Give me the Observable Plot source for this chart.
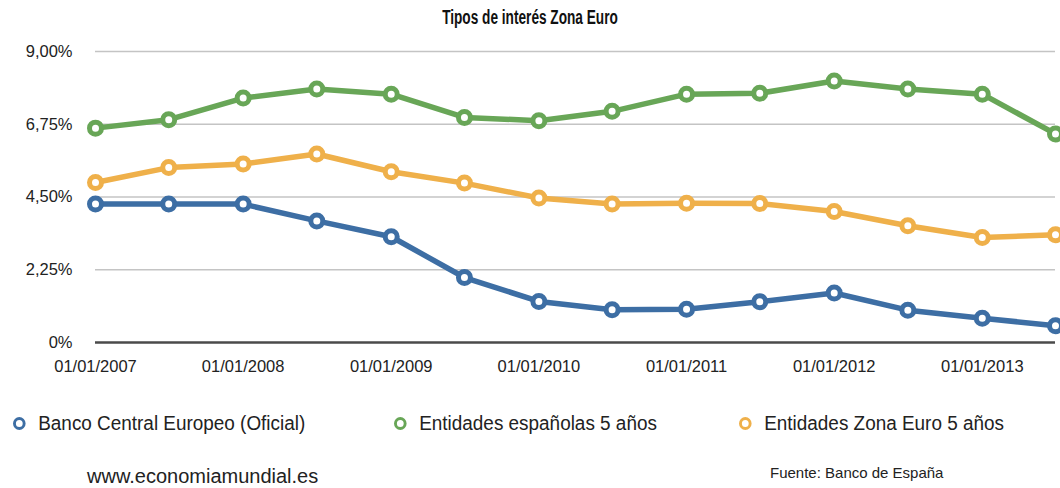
<!DOCTYPE html>
<html>
<head>
<meta charset="utf-8">
<script src="https://cdn.jsdelivr.net/npm/d3@7"></script>
<script src="https://cdn.jsdelivr.net/npm/@observablehq/plot@0.6"></script>
<style>
  body { margin: 0; background: #fff; font-family: "Liberation Sans", Arial, sans-serif; }
  #wrap { position: relative; width: 1060px; height: 488px; overflow: hidden; }
  #title { position: absolute; left: 0; top: 6px; width: 1060px; text-align: center; font-weight: bold; font-size: 19.5px; color: #111; transform: scaleX(0.70); transform-origin: 530px 0; }
  #chart { position: absolute; left: 0; top: 34px; }
  .leg { position: absolute; top: 412px; font-size: 19.5px; color: #222; display: flex; align-items: center; transform: scaleX(0.97); transform-origin: 0 0; }
  .leg span.m { display: inline-block; width: 7px; height: 7px; border-radius: 50%; border: 3px solid; margin-right: 13px; background: #fff; }
  #site { position: absolute; left: 87px; top: 465px; font-size: 20px; color: #222; }
  #src { position: absolute; left: 770px; top: 464px; font-size: 15px; color: #222; }
</style>
</head>
<body>
<div id="wrap">
  <div id="title">Tipos de interés Zona Euro</div>
  <div id="chart"></div>
  <div id="legend"></div>
  <div id="site">www.economiamundial.es</div>
  <div id="src">Fuente: Banco de España</div>
</div>
<script>
const dates = ["2007-01-01","2007-07-01","2008-01-01","2008-07-01","2009-01-01","2009-07-01","2010-01-01","2010-07-01","2011-01-01","2011-07-01","2012-01-01","2012-07-01","2013-01-01","2013-07-01"];
const seriesNames = ["Banco Central Europeo (Oficial)", "Entidades españolas 5 años", "Entidades Zona Euro 5 años"];
const bce       = [4.28, 4.28, 4.28, 3.76, 3.27, 2.01, 1.27, 1.01, 1.03, 1.26, 1.53, 1.00, 0.75, 0.52];
const espanolas = [6.63, 6.89, 7.56, 7.84, 7.68, 6.96, 6.86, 7.15, 7.68, 7.71, 8.09, 7.84, 7.68, 6.45];
const zonaEuro  = [4.95, 5.41, 5.52, 5.83, 5.28, 4.93, 4.47, 4.28, 4.31, 4.30, 4.05, 3.61, 3.25, 3.33];
const yTicks = [0, 2.25, 4.5, 6.75, 9];
const xTickYears = [2007, 2008, 2009, 2010, 2011, 2012, 2013];
const colors = ["#3d6ea4", "#68a657", "#efb04a"];

const valuesBySeries = [bce, espanolas, zonaEuro];
const data = [];
valuesBySeries.forEach((vals, s) => {
  vals.forEach((v, i) => data.push({date: new Date(dates[i] + "T00:00:00Z"), value: v, series: seriesNames[s]}));
});
const xTicks = xTickYears.map(y => new Date(Date.UTC(y, 0, 1)));
const fmtY = v => v === 0 ? "0%" : v.toFixed(2).replace(".", ",") + "%";
const fmtX = d => "01/01/" + d.getUTCFullYear();

const chart = Plot.plot({
  width: 1060,
  height: 350,
  marginLeft: 95,
  marginRight: 5,
  marginTop: 17,
  marginBottom: 42,
  style: { fontFamily: "Liberation Sans, Arial, sans-serif", fontSize: "16px", color: "#222", background: "transparent" },
  x: { type: "utc", domain: [new Date(dates[0] + "T00:00:00Z"), new Date(dates[dates.length - 1] + "T00:00:00Z")] },
  y: { domain: [0, 9] },
  color: { domain: seriesNames, range: colors },
  marks: [
    Plot.ruleY(yTicks.filter(v => v > 0), { stroke: "#c4c4c4", strokeWidth: 1.5 }),
    Plot.ruleY([0], { stroke: "#4a4a4a", strokeWidth: 2.5 }),
    Plot.axisY(yTicks, { tickSize: 0, tickPadding: 23, tickFormat: fmtY, label: null, fontSize: 16.5 }),
    Plot.axisX(xTicks, { tickSize: 0, tickPadding: 18, tickFormat: fmtX, label: null, fontSize: 16.5 }),
    Plot.line(data, { x: "date", y: "value", z: "series", stroke: "series", strokeWidth: 5.5, strokeLinejoin: "round", strokeLinecap: "round" }),
    Plot.dot(data, { x: "date", y: "value", stroke: "series", fill: "white", r: 6, strokeWidth: 5 })
  ]
});
document.getElementById("chart").appendChild(chart);

const legPos = [13, 394, 739];
const legend = document.getElementById("legend");
seriesNames.forEach((name, i) => {
  const d = document.createElement("div");
  d.className = "leg";
  d.style.left = legPos[i] + "px";
  const m = document.createElement("span");
  m.className = "m";
  m.style.borderColor = colors[i];
  d.appendChild(m);
  d.appendChild(document.createTextNode(name));
  legend.appendChild(d);
});
</script>
</body>
</html>
